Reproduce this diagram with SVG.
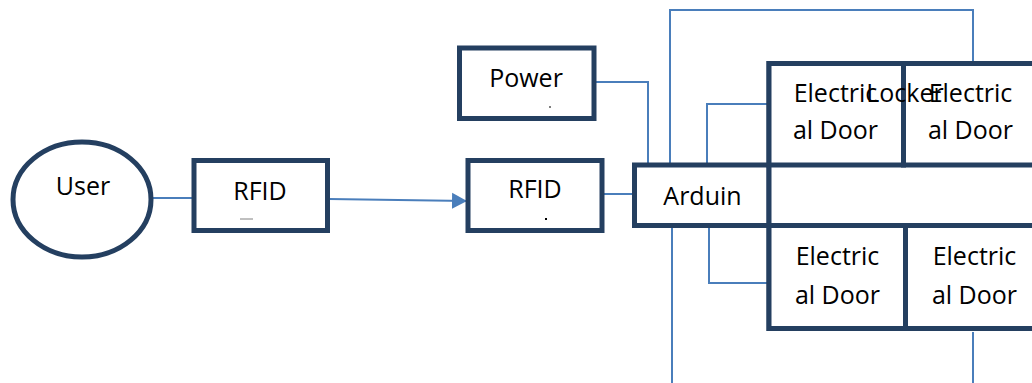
<svg xmlns="http://www.w3.org/2000/svg" width="1032" height="383" viewBox="0 0 1032 383">
  <defs>
    <style>
      .box { fill: #ffffff; stroke: #243f60; stroke-width: 5; }
      .wire { fill: none; stroke: #4a7ebb; stroke-width: 2; }
      .lbl { font-family: "Open Sans", "Liberation Sans", sans-serif; font-size: 25px; fill: #000000; text-anchor: middle; }
    </style>
    <marker id="arrow" markerUnits="userSpaceOnUse" markerWidth="16" markerHeight="17" refX="15" refY="8.5" orient="auto">
      <path d="M0,0.5 L15,8.5 L0,16.5 Z" fill="#4a7ebb"/>
    </marker>
  </defs>

  <rect width="1032" height="383" fill="#ffffff"/>

  <!-- connectors -->
  <g id="connectors">
    <path class="wire" d="M151,198 L194,198"/>
    <path class="wire" d="M329,199 L467,201" marker-end="url(#arrow)"/>
    <path class="wire" d="M602,194 L634,194"/>
    <path class="wire" d="M594,82 L648,82 L648,164 L707,164 L707,104 L769,104"/>
    <path class="wire" d="M670,165 L670,10 L973,10 L973,63"/>
    <path class="wire" d="M647,226 L709,226 L709,283 L769,283"/>
    <path class="wire" d="M672,226 L672,383"/>
    <path class="wire" d="M973,332 L973,383"/>
  </g>

  <!-- user -->
  <g id="user">
    <ellipse class="box" cx="82" cy="199.5" rx="69" ry="57.5"/>
    <text class="lbl" x="83" y="195">User</text>
  </g>

  <!-- RFID tag -->
  <g id="rfid-tag">
    <rect class="box" x="194" y="160.5" width="133.5" height="70"/>
    <text class="lbl" x="260" y="200">RFID</text>
    <line x1="240" y1="219" x2="253" y2="219" stroke="#808080" stroke-width="1"/>
  </g>

  <!-- RFID reader -->
  <g id="rfid-reader">
    <rect class="box" x="468" y="160.5" width="134" height="70"/>
    <text class="lbl" x="535" y="198">RFID</text>
    <rect x="545" y="218" width="2" height="2" fill="#000000"/>
  </g>

  <!-- power -->
  <g id="power">
    <rect class="box" x="459.5" y="48" width="134.5" height="70.5"/>
    <text class="lbl" x="526" y="87">Power</text>
    <rect x="549" y="106.5" width="2" height="1" fill="#000000"/>
  </g>

  <!-- arduino -->
  <g id="arduino">
    <rect class="box" x="634.5" y="165" width="134.5" height="60.5"/>
    <text class="lbl" x="702.5" y="205">Arduin</text>
  </g>

  <!-- locker with four doors -->
  <g id="locker">
    <rect class="box" x="769" y="63.5" width="300" height="265"/>
  </g>
  <g id="door-1">
    <rect class="box" x="769" y="63.5" width="134.5" height="101.5"/>
    <text class="lbl" x="835.5" y="102">Electric</text>
    <text class="lbl" x="835.5" y="139">al Door</text>
  </g>
  <g id="door-2">
    <rect class="box" x="903.5" y="63.5" width="160" height="101.5"/>
    <text class="lbl" x="970.5" y="102">Electric</text>
    <text class="lbl" x="970.5" y="139">al Door</text>
  </g>
  <g id="door-3">
    <rect class="box" x="769" y="225.5" width="136.5" height="103"/>
    <text class="lbl" x="837.5" y="265">Electric</text>
    <text class="lbl" x="837.5" y="304">al Door</text>
  </g>
  <g id="door-4">
    <rect class="box" x="905.5" y="225.5" width="160" height="103"/>
    <text class="lbl" x="974.5" y="265">Electric</text>
    <text class="lbl" x="974.5" y="304">al Door</text>
  </g>
  <text class="lbl" x="905" y="102">Locker</text>
</svg>
